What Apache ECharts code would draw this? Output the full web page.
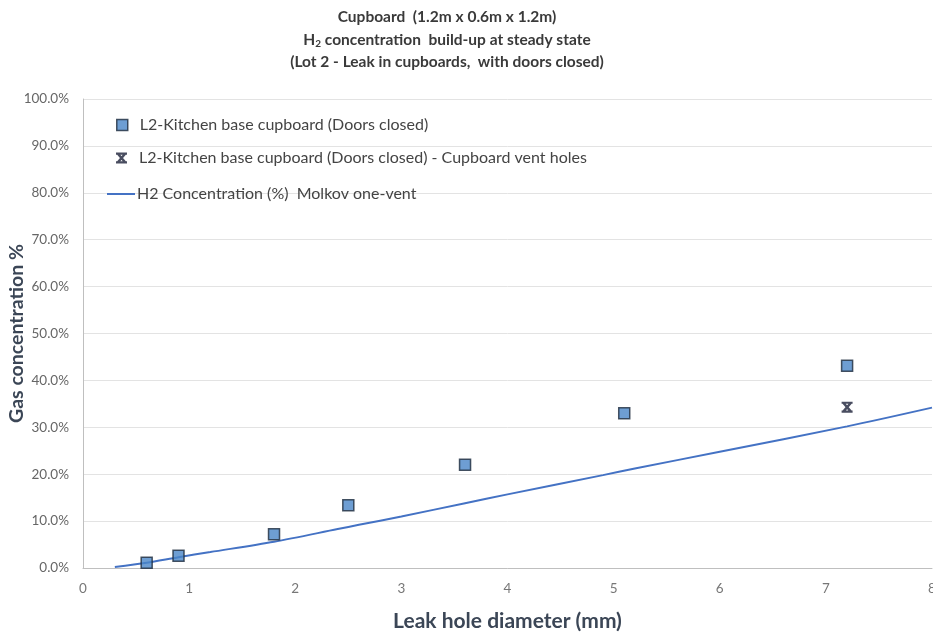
<!DOCTYPE html>
<html>
<head>
<meta charset="utf-8">
<script src="https://cdn.jsdelivr.net/npm/echarts@6/dist/echarts.min.js"></script>
<style>
  html, body { margin: 0; padding: 0; background: #fff; }
  #chart { width: 933px; height: 635px; }
</style>
</head>
<body>
<div id="chart"></div>
<script>
// Measured steady-state H2 concentration, doors closed
const leakDiameters = [0.6, 0.9, 1.8, 2.5, 3.6, 5.1, 7.2];
const concentrationDoorsClosed = [1.1, 2.6, 7.2, 13.4, 22.0, 33.0, 43.1];

// Same cupboard with vent holes
const ventDiameters = [7.2];
const concentrationVentHoles = [34.3];

// Molkov one-vent model curve
const modelDiameters = [0.3, 0.6, 0.9, 1.2, 1.8, 2.4, 2.6, 3.0, 3.6, 4.0, 4.9, 5.2, 6.0, 7.2, 8.0];
const modelConcentration = [0.2, 1.1, 2.3, 3.4, 5.6, 8.3, 9.2, 11.0, 13.8, 15.7, 19.8, 21.2, 24.8, 30.2, 34.2];

const seriesNames = [
  'L2-Kitchen base cupboard (Doors closed)',
  'L2-Kitchen base cupboard (Doors closed) - Cupboard vent holes',
  'H2 Concentration (%)  Molkov one-vent'
];

const FONT = 'Lato, "Open Sans", sans-serif';
// asterisk-style marker: an X capped by two bars
const starPath = 'path://M0,0 L10,0 L10,2 L0,2 Z M0,8 L10,8 L10,10 L0,10 Z M0.3,1.2 L2.2,0 L9.7,8.8 L7.8,10 Z M2.2,10 L0.3,8.8 L7.8,0 L9.7,1.2 Z';
const lineIcon = 'path://M0,0 L28,0 L28,2 L0,2 Z';

const SQUARE_STYLE = { color: '#4a86c8', borderColor: '#1d2a3c', borderWidth: 1.5 };
const STAR_COLOR = '#1c2038';
const LINE_COLOR = '#4472c4';

const zip = (xs, ys) => xs.map((x, i) => [x, ys[i]]);

const legendText = { fontFamily: FONT, fontSize: 16, color: '#444' };

const chart = echarts.init(document.getElementById('chart'), null, { renderer: 'canvas' });
chart.setOption({
  backgroundColor: '#ffffff',
  animation: false,
  textStyle: { fontFamily: FONT },
  title: {
    left: 442,
    top: 1,
    textAlign: 'center',
    text: '{b|Cupboard  (1.2m x 0.6m x 1.2m)}\n{b|H}{s|2}{b| concentration  build-up at steady state}\n{b|(Lot 2 - Leak in cupboards,  with doors closed)}',
    textStyle: {
      rich: {
        b: { fontFamily: FONT, fontSize: 15.5, fontWeight: 'bold', color: '#3a3a3a', lineHeight: 22.5 },
        s: { fontFamily: FONT, fontSize: 10, fontWeight: 'bold', color: '#3a3a3a', lineHeight: 22.5, padding: [9, 0, 0, 0] }
      }
    }
  },
  legend: [
    {
      left: 116, top: 117, padding: 0, itemWidth: 11, itemHeight: 11, itemGap: 0,
      textStyle: Object.assign({ padding: [0, 0, 0, 7] }, legendText),
      data: [{ name: seriesNames[0], icon: 'rect', itemStyle: SQUARE_STYLE }]
    },
    {
      left: 116, top: 150, padding: 0, itemWidth: 11, itemHeight: 11, itemGap: 0,
      textStyle: Object.assign({ padding: [0, 0, 0, 7] }, legendText),
      data: [{ name: seriesNames[1], icon: starPath, itemStyle: { color: STAR_COLOR } }]
    },
    {
      left: 107, top: 186, padding: 0, itemWidth: 28, itemHeight: 2, itemGap: 0,
      textStyle: Object.assign({ padding: [0, 0, 0, -3] }, legendText),
      data: [{ name: seriesNames[2], icon: lineIcon, itemStyle: { color: LINE_COLOR } }]
    }
  ],
  grid: { left: 83, right: 1, top: 99, bottom: 67, containLabel: false, outerBoundsMode: 'none' },
  xAxis: {
    type: 'value',
    min: 0,
    max: 8,
    interval: 1,
    name: 'Leak hole diameter (mm)',
    nameLocation: 'middle',
    nameGap: 43,
    nameMoveOverlap: false,
    nameTextStyle: { fontFamily: FONT, fontSize: 21, fontWeight: 'bold', color: '#3b4656' },
    axisLine: { show: true, lineStyle: { color: '#bfbfbf', width: 1 } },
    axisTick: { show: false },
    axisLabel: { color: '#777', fontSize: 13.5, margin: 14, fontFamily: FONT },
    splitLine: { show: false }
  },
  yAxis: {
    type: 'value',
    min: 0,
    max: 100,
    interval: 10,
    name: 'Gas concentration %',
    nameLocation: 'middle',
    nameGap: 56,
    nameMoveOverlap: false,
    nameRotate: 90,
    nameTextStyle: { fontFamily: FONT, fontSize: 19.5, fontWeight: 'bold', color: '#3b4656' },
    axisLine: { show: true, lineStyle: { color: '#bfbfbf', width: 1 } },
    axisTick: { show: false },
    axisLabel: { color: '#666', fontSize: 13.5, margin: 14, fontFamily: FONT, formatter: v => v.toFixed(1) + '%' },
    splitLine: { show: true, lineStyle: { color: '#e3e3e3', width: 1 } }
  },
  series: [
    {
      name: seriesNames[2],
      type: 'line',
      data: zip(modelDiameters, modelConcentration),
      showSymbol: false,
      symbol: 'none',
      smooth: 0.3,
      lineStyle: { color: LINE_COLOR, width: 2 },
      itemStyle: { color: LINE_COLOR },
      z: 2
    },
    {
      name: seriesNames[0],
      type: 'scatter',
      data: zip(leakDiameters, concentrationDoorsClosed),
      symbol: 'rect',
      symbolSize: 11,
      itemStyle: SQUARE_STYLE,
      z: 3
    },
    {
      name: seriesNames[1],
      type: 'scatter',
      data: zip(ventDiameters, concentrationVentHoles),
      symbol: starPath,
      symbolSize: 11,
      itemStyle: { color: STAR_COLOR },
      z: 4
    }
  ]
});
</script>
</body>
</html>
